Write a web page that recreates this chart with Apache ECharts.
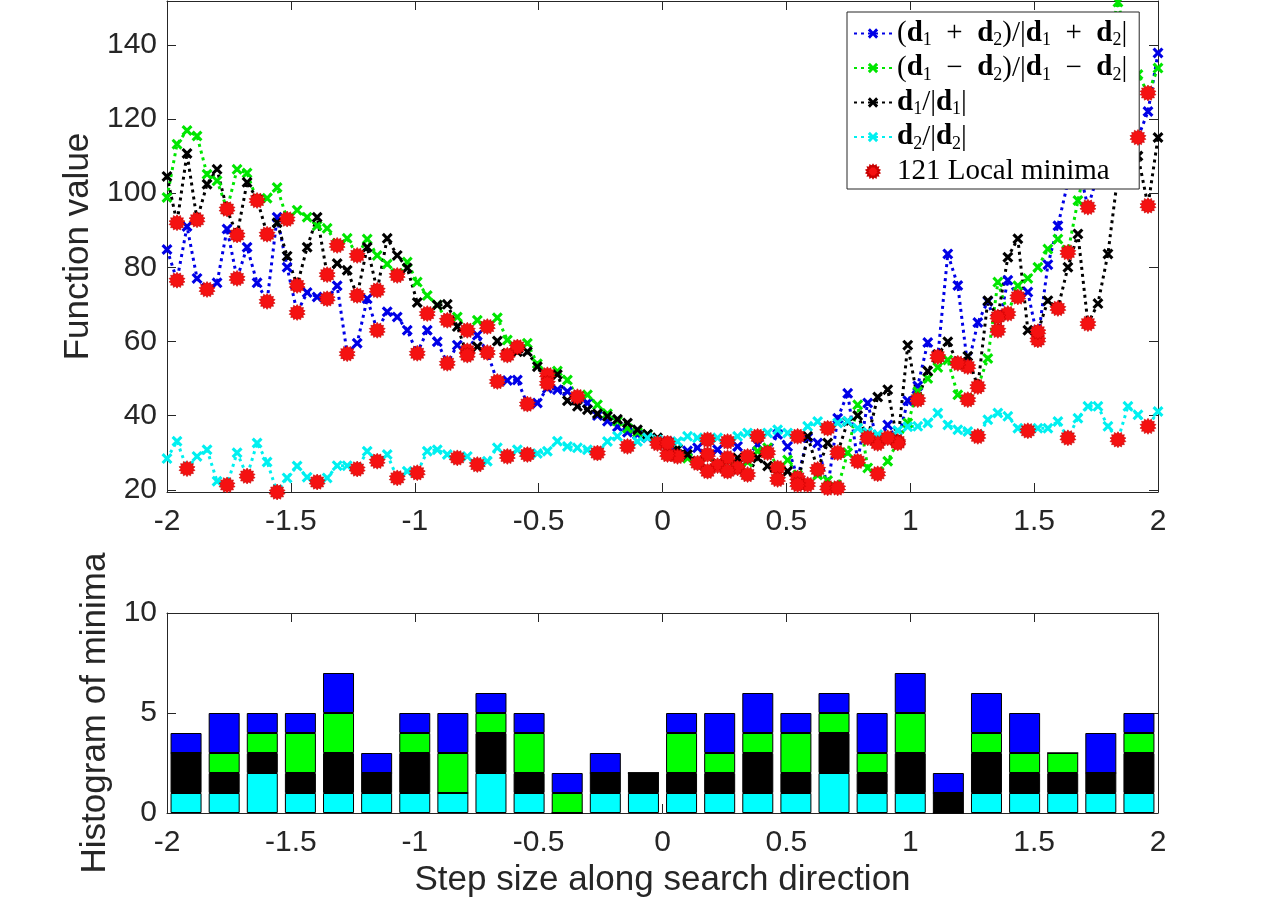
<!DOCTYPE html>
<html>
<head>
<meta charset="utf-8">
<title>Function value along search direction</title>
<script src="https://cdn.jsdelivr.net/npm/echarts@6/dist/echarts.min.js"></script>
<style>
  html, body { margin: 0; padding: 0; background: #fff; }
  #chart { width: 1280px; height: 907px; }
</style>
</head>
<body>
<div id="chart"></div>
<script>
// line values, 100 samples from -2 to 2
var sumDir = [84.8, 76.5, 91, 77, 74, 75.8, 90.3, 77, 85.4, 75.8,
  70.8, 93.5, 80, 67.8, 73.2, 72, 71.5, 75, 56.7, 59.5,
  71.5, 63, 68, 66.6, 63, 56.8, 63, 59.9, 54.1, 59,
  57.5, 61.7, 57, 49.2, 49.5, 49.6, 43.1, 43.4, 47.4, 47,
  46.5, 44.5, 43.4, 40, 38.5, 37, 35.5, 34.9, 34, 32.5,
  33, 29, 30.5, 31.3, 29.5, 30.8, 28.6, 31.7, 29, 32.2,
  30, 34.9, 31.7, 23.2, 34, 32.6, 20.5, 39.3, 46, 27.7,
  43.4, 32.5, 37.5, 33, 44, 48, 59.7, 55.9, 83.6, 75.1,
  53.2, 65.1, 70.8, 63, 76.5, 72, 73.3, 60.4, 80.7, 91.2,
  103, 108, 96.2, 105, 112, 116, 118, 115, 122, 137.8];

var diffDir = [98.8, 113.2, 116.9, 115.4, 105.1, 103.3, 95.7, 106.4, 105.4, 98,
  98.6, 101.5, 93, 95.4, 93.5, 91.2, 90.5, 85.9, 87.8, 83.2,
  87.6, 83.2, 80.9, 77.8, 81.4, 76, 72.4, 69.8, 65.7, 66.6,
  63, 65.7, 64, 66.4, 60.4, 58.5, 59.5, 54, 51, 52,
  49.6, 45.1, 45.6, 42.9, 40.5, 38.5, 36.6, 35.5, 34.9, 33,
  29.5, 31, 28.5, 27.2, 29, 26.5, 28, 25.9, 27.5, 30.4,
  31.3, 25.9, 28, 24, 21.4, 24, 22.5, 20.5, 30, 42.9,
  25.9, 24.3, 27.7, 33, 38, 46.5, 50, 53, 55, 45.6,
  44.3, 47.8, 55.4, 76, 67.5, 75, 77, 80, 84.9, 87.6,
  84, 98, 110, 125, 140, 151.5, 140, 132, 127, 133.7];

var d1Dir = [104.5, 92, 110.7, 92.8, 102.4, 106.4, 95.5, 88.7, 102.9, 98.4,
  88.9, 92, 83, 75.1, 85.4, 93.5, 78, 81, 79.2, 72.4,
  85.4, 73.8, 87.8, 83.2, 79.8, 70.5, 67.5, 69.8, 70, 64,
  56.3, 58.6, 57, 60.1, 56.3, 57.2, 57.2, 53.2, 48.7, 51.1,
  44, 42.5, 41.6, 40.5, 39.8, 39, 38, 36.2, 35, 34,
  32.5, 31, 29.5, 27.7, 25, 27, 25, 28.6, 24.1, 28.6,
  26.4, 22.8, 25, 21.4, 34.4, 25.5, 32.6, 30, 38.4, 40,
  34, 45, 47, 32.6, 59, 44.3, 52, 56.5, 59.9, 54.1,
  56, 47.8, 71, 66.6, 82.7, 87.7, 63, 62.6, 71, 68.9,
  80, 89, 64.8, 70.2, 83.6, 105, 115, 110, 96.6, 115];

var d2Dir = [28.4, 33.1, 25.7, 29, 30.8, 22.3, 21.3, 30, 23.7, 32.6,
  27.5, 19.4, 23.2, 26.4, 23.4, 22.1, 23.2, 26.5, 26.5, 25.6,
  30.4, 27.7, 29.5, 23.2, 25, 24.6, 30.4, 30.8, 29.5, 28.6,
  29, 26.8, 27.7, 31.3, 29, 30.8, 29.5, 29.8, 30.4, 33.1,
  31.7, 31.3, 30.8, 29.9, 33, 34.4, 31.7, 33, 34, 33.5,
  32.6, 33, 34.4, 34, 33.5, 34, 33, 34.4, 35.3, 34.4,
  35.3, 36.2, 35.3, 34.4, 37.1, 38.4, 36.6, 38, 38.5, 36.6,
  35.5, 34.9, 34, 36, 37, 37.1, 38, 40.7, 37.5, 36.2,
  35.7, 34.4, 38.9, 40.7, 39.8, 36.6, 35.9, 36.6, 36.6, 38.4,
  34, 39.3, 42.5, 42.5, 37.1, 33.5, 42.5, 40.2, 37.1, 41.1];

// histogram of minima, 26 bins, stacked bottom to top
var binCenters = ['-1.923', '-1.769', '-1.615', '-1.462', '-1.308', '-1.154', '-1.000', '-0.846', '-0.692', '-0.538',
  '-0.385', '-0.231', '-0.077', '0.077', '0.231', '0.385', '0.538', '0.692', '0.846', '1.000',
  '1.154', '1.308', '1.462', '1.615', '1.769', '1.923'];
var histCyan = [1, 1, 2, 1, 1, 1, 1, 1, 2, 1, 0, 1, 1, 1, 1, 1, 1, 2, 1, 1, 0, 1, 1, 1, 1, 1];
var histBlack = [2, 1, 1, 1, 2, 1, 2, 0, 2, 1, 0, 1, 1, 1, 1, 2, 1, 2, 1, 2, 1, 2, 1, 1, 1, 2];
var histGreen = [0, 1, 1, 2, 2, 0, 1, 2, 1, 2, 1, 0, 0, 2, 1, 1, 2, 1, 1, 2, 0, 1, 1, 1, 0, 1];
var histBlue = [1, 2, 1, 1, 2, 1, 1, 2, 1, 1, 1, 1, 0, 1, 2, 2, 1, 1, 2, 2, 1, 2, 2, 0, 2, 1];

var yTicksTop = [20, 40, 60, 80, 100, 120, 140];

(function() {
  var xs = [];
  for (var i = 0; i < sumDir.length; i++) {
    xs.push(-2 + 4 * i / (sumDir.length - 1));
  }

  function toPairs(arr) {
    return arr.map(function(v, i) { return [xs[i], v]; });
  }

  function localMinima(arr) {
    var res = [];
    for (var i = 1; i < arr.length - 1; i++) {
      if (arr[i] < arr[i - 1] && arr[i] < arr[i + 1]) res.push([xs[i], arr[i]]);
    }
    return res;
  }

  // star-burst marker for the minima
  var star = 'path://';
  var n = 14;
  for (var k = 0; k < 2 * n; k++) {
    var r = k % 2 === 0 ? 10 : 7.6;
    var a = Math.PI * k / n;
    star += (k === 0 ? 'M' : 'L') + (10 + r * Math.sin(a)).toFixed(2) + ',' + (10 - r * Math.cos(a)).toFixed(2) + ' ';
  }
  star += 'Z';
  var cross = 'path://M0,2 L2,0 L5,3 L8,0 L10,2 L7,5 L10,8 L8,10 L5,7 L2,10 L0,8 L3,5 Z';

  var axisColor = '#262626';
  var sansFont = '"Liberation Sans", Arial, Helvetica, sans-serif';
  var serifFont = '"Liberation Serif", "DejaVu Serif", serif';
  var tickFont = 30;
  var nameFont = 35;

  function lineSeries(name, arr, color) {
    return {
      name: name,
      type: 'line',
      xAxisIndex: 0,
      yAxisIndex: 0,
      data: toPairs(arr),
      symbol: cross,
      symbolSize: 11,
      showAllSymbol: true,
      itemStyle: { color: color },
      lineStyle: { color: color, width: 3, type: [3, 4] },
      emphasis: { disabled: true }
    };
  }

  function barSeries(arr, color) {
    return {
      type: 'bar',
      xAxisIndex: 2,
      yAxisIndex: 2,
      stack: 'hist',
      barWidth: 31,
      data: arr,
      itemStyle: { color: color, borderColor: '#000', borderWidth: 1 },
      emphasis: { disabled: true }
    };
  }

  function frameX(grid, pos, labels, extra) {
    var o = {
      type: 'value',
      gridIndex: grid,
      position: pos,
      min: -2,
      max: 2,
      interval: 0.5,
      axisLine: { show: true, onZero: false, lineStyle: { color: axisColor, width: 1 } },
      axisTick: { show: true, inside: true, length: 9, lineStyle: { color: axisColor } },
      axisLabel: {
        show: labels,
        fontFamily: sansFont,
        fontSize: tickFont,
        color: axisColor,
        margin: 15,
        showMinLabel: true,
        showMaxLabel: true
      },
      splitLine: { show: false }
    };
    return Object.assign(o, extra || {});
  }

  function frameY(grid, pos, labels, lim, extra) {
    var o = {
      type: 'value',
      gridIndex: grid,
      position: pos,
      min: lim[0],
      max: lim[1],
      axisLine: { show: true, onZero: false, lineStyle: { color: axisColor, width: 1 } },
      axisTick: { show: true, inside: true, length: 9, lineStyle: { color: axisColor } },
      axisLabel: { show: labels, fontFamily: sansFont, fontSize: tickFont, color: axisColor, margin: 10 },
      splitLine: { show: false }
    };
    if (extra) {
      for (var key in extra) {
        if (typeof extra[key] === 'object' && o[key]) Object.assign(o[key], extra[key]);
        else o[key] = extra[key];
      }
    }
    return o;
  }

  var chart = echarts.init(document.getElementById('chart'));

  var sp = '\u2002';
  var legendText = {
    sum: '{p|(}{b|d}{s|1}{p|' + sp + '+' + sp + '}{b|d}{s|2}{p|)/|}{b|d}{s|1}{p|' + sp + '+' + sp + '}{b|d}{s|2}{p||}',
    diff: '{p|(}{b|d}{s|1}{p|' + sp + '\u2212' + sp + '}{b|d}{s|2}{p|)/|}{b|d}{s|1}{p|' + sp + '\u2212' + sp + '}{b|d}{s|2}{p||}',
    d1: '{b|d}{s|1}{p|/|}{b|d}{s|1}{p||}',
    d2: '{b|d}{s|2}{p|/|}{b|d}{s|2}{p||}',
    minima: '{p|121 Local minima}'
  };

  chart.setOption({
    backgroundColor: '#fff',
    animation: false,
    grid: [
      { left: 167, top: 1, width: 991, height: 491 },
      { left: 167, top: 613, width: 991, height: 200 }
    ],
    xAxis: [
      frameX(0, 'bottom', true),
      frameX(0, 'top', false),
      {
        type: 'category',
        gridIndex: 1,
        data: binCenters,
        show: false,
        boundaryGap: true
      },
      frameX(1, 'bottom', true, {
        name: 'Step size along search direction',
        nameLocation: 'middle',
        nameGap: 50,
        nameTextStyle: { fontFamily: sansFont, fontSize: nameFont, color: axisColor }
      }),
      frameX(1, 'top', false)
    ],
    yAxis: [
      frameY(0, 'left', true, [19.4, 151.8], {
        name: 'Function value',
        nameLocation: 'middle',
        nameGap: 68,
        nameTextStyle: { fontFamily: sansFont, fontSize: nameFont, color: axisColor },
        axisTick: { customValues: yTicksTop },
        axisLabel: { customValues: yTicksTop }
      }),
      frameY(0, 'right', false, [19.4, 151.8], {
        axisTick: { customValues: yTicksTop }
      }),
      frameY(1, 'left', true, [0, 10], {
        interval: 5,
        name: 'Histogram of minima',
        nameLocation: 'middle',
        nameGap: 49,
        nameTextStyle: { fontFamily: sansFont, fontSize: nameFont, color: axisColor }
      }),
      frameY(1, 'right', false, [0, 10], { interval: 5 })
    ],
    legend: {
      orient: 'vertical',
      left: 847,
      top: 12,
      padding: [7, 12, 3, 6],
      itemGap: 4,
      itemWidth: 38,
      itemHeight: 13,
      backgroundColor: '#fff',
      borderColor: axisColor,
      borderWidth: 1,
      borderRadius: 0,
      data: ['sum', 'diff', 'd1', 'd2', 'minima'],
      formatter: function(name) { return legendText[name]; },
      textStyle: {
        rich: {
          p: { fontFamily: serifFont, fontSize: 29, lineHeight: 32, color: '#000' },
          b: { fontFamily: serifFont, fontSize: 29, fontWeight: 'bold', lineHeight: 32, color: '#000' },
          s: { fontFamily: serifFont, fontSize: 18, lineHeight: 18, verticalAlign: 'bottom', color: '#000' }
        }
      }
    },
    series: [
      lineSeries('sum', sumDir, '#0000e6'),
      lineSeries('diff', diffDir, '#00e600'),
      lineSeries('d1', d1Dir, '#000000'),
      lineSeries('d2', d2Dir, '#00f0f0'),
      {
        name: 'minima',
        type: 'scatter',
        xAxisIndex: 0,
        yAxisIndex: 0,
        data: localMinima(sumDir)
          .concat(localMinima(diffDir))
          .concat(localMinima(d1Dir))
          .concat(localMinima(d2Dir)),
        symbol: star,
        symbolSize: 16,
        itemStyle: { color: '#f51111', opacity: 1, borderColor: '#c80000', borderWidth: 0.6 },
        z: 5,
        emphasis: { disabled: true }
      },
      barSeries(histCyan, '#00ffff'),
      barSeries(histBlack, '#000000'),
      barSeries(histGreen, '#00ff00'),
      barSeries(histBlue, '#0000ff')
    ]
  });
})();
</script>
</body>
</html>
